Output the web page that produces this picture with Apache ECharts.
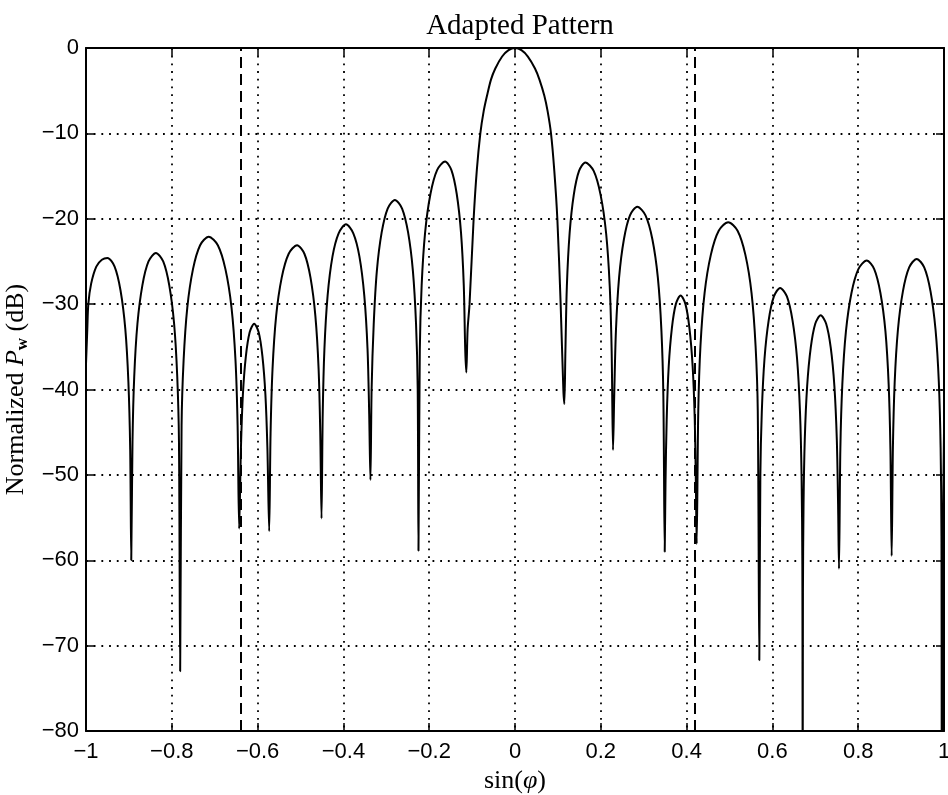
<!DOCTYPE html>
<html>
<head>
<meta charset="utf-8">
<script src="https://cdn.jsdelivr.net/npm/echarts@6/dist/echarts.min.js"></script>
<style>
html,body{margin:0;padding:0;background:#fff;}
#chart{width:948px;height:795px;}
</style>
</head>
<body>
<div id="chart"></div>
<script>
// sin(phi) positions (one line per lobe)
const sinPhi = [
 -1.000, -0.997, -0.9946, -0.988, -0.976, -0.963, -0.950, -0.9333, -0.9195, -0.9084, -0.9012, -0.897, -0.8945,
 -0.8916, -0.8876, -0.8801, -0.8686, -0.8543, -0.837, -0.820, -0.8059, -0.7946, -0.7873, -0.7833, -0.7805,
 -0.7772, -0.7725, -0.7639, -0.7506, -0.734, -0.714, -0.6927, -0.675, -0.6608, -0.6515, -0.6466, -0.643,
 -0.6388, -0.6343, -0.6273, -0.6185, -0.608, -0.5975, -0.5888, -0.5818, -0.5772, -0.573,
 -0.5698, -0.5652, -0.5568, -0.5438, -0.5275, -0.508, -0.4909, -0.4767, -0.4653, -0.4578, -0.4539, -0.451,
 -0.4482, -0.4442, -0.4368, -0.4254, -0.4111, -0.394, -0.3769, -0.3627, -0.3513, -0.3438, -0.3399, -0.337,
 -0.3342, -0.3293, -0.322, -0.3108, -0.2968, -0.280, -0.2632, -0.2492, -0.238, -0.2307, -0.2268, -0.225,
 -0.2219, -0.2176, -0.2095, -0.1971, -0.1816, -0.163, -0.1482, -0.1358, -0.1259, -0.1194, -0.116, -0.1135,
 -0.1105, -0.106, -0.0964, -0.089, -0.0808, -0.073, -0.0653, -0.056, -0.0459, -0.030, -0.015, 0.000,
 0.015, 0.030, 0.0466, 0.057, 0.0684, 0.076, 0.0839, 0.0915, 0.0987, 0.1064, 0.1127, 0.115,
 0.1175, 0.1209, 0.1273, 0.137, 0.1493, 0.164, 0.1834, 0.1995, 0.2124, 0.2208, 0.2253, 0.2285,
 0.2313, 0.2353, 0.2426, 0.2539, 0.268, 0.285, 0.3042, 0.3202, 0.333, 0.3413, 0.3458, 0.349,
 0.3508, 0.3536, 0.3583, 0.3657, 0.3749, 0.386, 0.3973, 0.4066, 0.4141, 0.419, 0.4216, 0.4235,
 0.4272, 0.4323, 0.4419, 0.4566, 0.4749, 0.497, 0.5188, 0.5369, 0.5514, 0.5608, 0.5659, 0.5695,
 0.5719, 0.5753, 0.5816, 0.5913, 0.6035, 0.618, 0.6338, 0.6469, 0.6575, 0.6643, 0.668, 0.6698, 0.6706,
 0.6712, 0.6726, 0.6755, 0.681, 0.6894, 0.6999, 0.7125, 0.7253, 0.736, 0.7445, 0.7501, 0.7531, 0.7552,
 0.7584, 0.763, 0.7714, 0.7843, 0.8004, 0.8198, 0.8373, 0.8518, 0.8635, 0.871, 0.8751, 0.878,
 0.8809, 0.885, 0.8926, 0.9042, 0.9188, 0.9363, 0.9539, 0.9686, 0.9803, 0.988, 0.9921, 0.9941, 0.995,
 0.998, 1.000
];
// normalized power in dB at those positions
const powerDb = [
 -37, -33, -30, -27.6, -25.6, -24.8, -24.6, -25.6, -28.4, -32.9, -39.1, -47, -60,
 -46.1, -38.5, -32.3, -27.8, -25.0, -24.0, -25.0, -27.8, -32.3, -38.5, -46.1, -73,
 -44.2, -36.6, -30.4, -25.9, -23.1, -22.1, -23.1, -25.9, -30.4, -36.6, -44.2, -56.3,
 -46.8, -40.6, -36.1, -33.3, -32.3, -33.3, -36.1, -40.6, -46.8, -56.6,
 -45.2, -37.6, -31.4, -26.9, -24.1, -23.1, -24.1, -26.9, -31.4, -37.6, -45.2, -55.1,
 -42.8, -35.2, -29.0, -24.4, -21.7, -20.65, -21.7, -24.4, -29.0, -35.2, -42.8, -50.6,
 -39.9, -32.3, -26.1, -21.6, -18.8, -17.8, -18.8, -21.6, -26.1, -32.3, -39.9, -58.9,
 -35.4, -27.8, -21.6, -17.1, -14.3, -13.3, -14.3, -17.1, -21.6, -27.8, -35.4, -38,
 -33, -30, -20, -14.3, -10, -7.4, -5.6, -3.7, -2.4, -1.0, -0.25, 0,
 -0.25, -1.0, -2.4, -3.7, -5.6, -7.4, -10, -14.3, -20, -30, -40, -41.7,
 -35.5, -27.9, -21.7, -17.2, -14.4, -13.4, -14.4, -17.2, -21.7, -27.9, -35.5, -47.1,
 -40.7, -33.1, -26.9, -22.4, -19.6, -18.6, -19.6, -22.4, -26.9, -33.1, -40.7, -59,
 -51.1, -43.5, -37.3, -32.8, -30.0, -29.0, -30.0, -32.8, -37.3, -43.5, -51.1, -58.1,
 -42.5, -34.9, -28.7, -24.2, -21.4, -20.4, -21.4, -24.2, -28.7, -34.9, -42.5, -71.7,
 -50.2, -42.6, -36.4, -31.9, -29.1, -28.1, -29.1, -31.9, -36.4, -42.6, -50.2, -60.6, -90,
 -63.8, -53.4, -45.8, -39.6, -35.1, -32.3, -31.3, -32.3, -35.1, -39.6, -45.8, -53.4, -61,
 -47.0, -39.4, -33.2, -28.7, -25.9, -24.9, -25.9, -28.7, -33.2, -39.4, -47.0, -59.5,
 -46.8, -39.2, -33.0, -28.5, -25.7, -24.7, -25.7, -28.5, -33.0, -39.2, -46.8, -57.2, -90,
 -55, -45
];
// dashed vertical markers (sin(phi))
const dashedMarks = [-0.643, 0.4235];
// axis ticks
const xTicks = { min: -1, max: 1, step: 0.2 };
const yTicks = { min: -80, max: 0, step: 10 };

const curve = sinPhi.map((x, i) => [x, powerDb[i]]);
const minus = s => s.replace('-', '\u2212');

const chart = echarts.init(document.getElementById('chart'), null, { renderer: 'canvas' });
const tickStyle = { show: true, inside: true, length: 8, lineStyle: { color: '#000', width: 1.5 } };
const dotted = { show: true, lineStyle: { color: '#000', width: 1.8, type: [1.8, 5.9] } };
const axisLine = { show: true, onZero: false, lineStyle: { color: '#000', width: 2 } };
const labelFont = { color: '#000', fontSize: 22, fontFamily: 'Liberation Sans, Arial, sans-serif' };
const serif = 'Liberation Serif, Times New Roman, serif';

chart.setOption({
  backgroundColor: '#fff',
  animation: false,
  title: {
    text: 'Adapted Pattern',
    left: 515, top: 7, textAlign: 'center',
    textStyle: { fontFamily: serif, fontWeight: 'normal', fontSize: 29, color: '#000' }
  },
  grid: { left: 86, right: 4, top: 48, bottom: 64, containLabel: false, outerBoundsMode: 'none' },
  xAxis: [{
    type: 'value', min: xTicks.min, max: xTicks.max, interval: xTicks.step,
    position: 'bottom',
    axisLine, axisTick: tickStyle, splitLine: dotted,
    axisLabel: Object.assign({ margin: 10, formatter: v => minus(String(parseFloat(v.toFixed(2)))) }, labelFont),
    name: '{n|sin(}{i|\u03C6}{n|)}',
    nameLocation: 'middle', nameGap: 26,
    nameTextStyle: { rich: {
      n: { fontFamily: serif, fontSize: 26, color: '#000' },
      i: { fontFamily: serif, fontStyle: 'italic', fontSize: 26, color: '#000' }
    } }
  }, {
    type: 'value', min: xTicks.min, max: xTicks.max, interval: xTicks.step,
    position: 'top',
    axisLine, axisTick: tickStyle, splitLine: { show: false }, axisLabel: { show: false }
  }],
  yAxis: [{
    type: 'value', min: yTicks.min, max: yTicks.max, interval: yTicks.step,
    position: 'left',
    axisLine, axisTick: tickStyle, splitLine: dotted,
    axisLabel: Object.assign({ margin: 7, formatter: v => minus(String(v)) }, labelFont),
    name: '{n|Normalized }{p|P}{s|w}{n| (dB)}',
    nameLocation: 'middle', nameGap: 43, nameRotate: 90,
    nameTextStyle: { rich: {
      n: { fontFamily: serif, fontSize: 26, color: '#000', lineHeight: 30, verticalAlign: 'middle' },
      p: { fontFamily: serif, fontStyle: 'italic', fontSize: 26, color: '#000', lineHeight: 30, verticalAlign: 'middle' },
      s: { fontFamily: serif, fontWeight: 'bold', fontSize: 17, color: '#000', padding: [12, 0, 0, 0], verticalAlign: 'middle' }
    } }
  }, {
    type: 'value', min: yTicks.min, max: yTicks.max, interval: yTicks.step,
    position: 'right',
    axisLine, axisTick: tickStyle, splitLine: { show: false }, axisLabel: { show: false }
  }],
  series: [{
    type: 'line',
    data: curve,
    xAxisIndex: 0, yAxisIndex: 0,
    showSymbol: false,
    smooth: 0.3,
    clip: true,
    lineStyle: { color: '#000', width: 2 },
    markLine: {
      silent: true, symbol: 'none', animation: false,
      label: { show: false },
      lineStyle: { color: '#000', width: 2, type: [11, 6] },
      data: dashedMarks.map(x => ({ xAxis: x }))
    }
  }]
});
</script>
</body>
</html>
